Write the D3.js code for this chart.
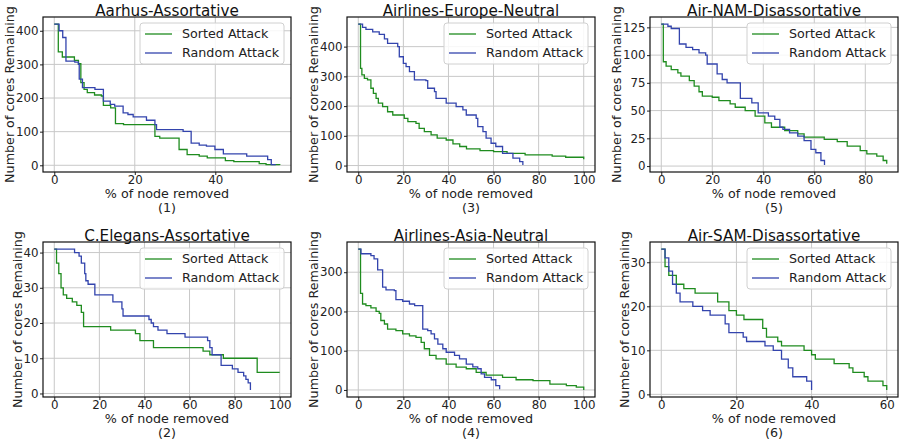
<!DOCTYPE html>
<html>
<head>
<meta charset="utf-8">
<script src="https://cdn.jsdelivr.net/npm/d3@7"></script>
<style>
  body { margin: 0; background: #fff; }
  svg { font-family: "DejaVu Sans", sans-serif; }
</style>
</head>
<body>
<svg id="chart"></svg>
<script>
// x = % of node removed, y = number of cores remaining (step series)
const titles = ["Aarhus-Assortative", "Airlines-Europe-Neutral", "Air-NAM-Disassortative",
  "C.Elegans-Assortative", "Airlines-Asia-Neutral", "Air-SAM-Disassortative"];
const captions = ["(1)", "(3)", "(5)", "(2)", "(4)", "(6)"];
const seriesNames = ["Sorted Attack", "Random Attack"];

const sorted1 = [[0,420],[1,337],[2,322],[5,312],[6,302],[6.6,246],[7.4,226],[8.2,216],[10,209],[11.7,206],[12.2,178],[14,171],[15.2,124],[17.2,121],[25,86],[26.2,81],[31,47],[33,32],[36,27],[38,22],[42.5,14],[44.6,11],[50.9,5],[52.6,2],[56,1]];
const random1 = [[0,420],[1.2,400],[2.1,380],[2.9,310],[5.1,307],[6,300],[6.2,256],[7,231],[10.1,226],[12.2,191],[13.9,181],[15,176],[17.1,156],[18.3,151],[19.6,144],[22.9,134],[25,121],[25.4,106],[32,101],[34,66],[36,60],[37.8,57],[39.9,47],[42,34],[47.8,27],[53,17],[53.9,2],[55,2]];

const sorted3 = [[0,476],[1,327],[1.6,305],[2.7,293],[4.1,288],[5.6,260],[6.7,243],[7.9,226],[8.9,210],[10.8,198],[13,181],[15.3,170],[20.4,159],[22,148],[25.6,142],[27,125],[29.3,114],[32.3,103],[35,92],[39,86],[42,73],[45,64],[48,56],[54,50],[60,47],[66,41],[74,36],[86,32],[92,28],[100,21]];
const random3 = [[0,476],[1.9,465],[3.4,458],[6.4,450],[9.3,441],[11.6,426],[13,411],[17.5,400],[18.2,366],[20,344],[21.2,333],[22.7,316],[24.9,288],[30,286],[30.8,260],[33.8,249],[34.5,226],[39,210],[43.4,198],[46.4,187],[47.9,170],[52.3,159],[53,131],[55.3,114],[56.7,92],[58.9,75],[61,64],[64,41],[68.6,25],[71.6,13],[73,2]];

const sorted5 = [[0,128],[0.8,94],[1.9,90],[3.9,87],[6.5,84],[7.7,81],[11,77],[12.9,72],[14.8,67],[16.1,63],[20,62],[22.6,59],[27,56],[29,53],[32.9,50],[36.8,45],[40.6,39],[43.2,35],[48.4,32],[53.5,29],[56,26],[63.9,24],[69,22],[72.9,18],[78,14],[80.6,11],[84.5,9],[87,5],[88.4,2]];
const random5 = [[0,128],[2.6,126],[3.9,124],[7.1,110],[9.7,107],[12.3,105],[14.8,102],[17.4,100],[18,92],[21.9,83],[23.9,78],[25.8,75],[31,61],[35.5,57],[38,48],[42,45],[44.5,42],[46.5,35],[47.7,33],[50.3,30],[53.5,27],[56,23],[58.7,15],[60.6,12],[62.6,5],[64,1]];

const sorted2 = [[0,41],[1,37],[2,34],[3,30],[4,28],[5.5,27],[8,26],[10,25],[12,23],[13,19],[25,18],[36,17],[38,15],[44,13],[66,12],[69,11],[75,10],[90,6],[100,6]];
const random2 = [[0,41],[9,40],[11,39],[12,37],[13.5,34],[14,32],[15,31],[18,28],[26,26],[30,24],[30.5,22],[42,21],[43,20],[44,19],[46,18],[50,17],[58,16],[68,15],[69,13],[70,11],[74,8],[79,7],[81.5,6],[84,5],[85,4],[86,3],[87,1]];

const sorted4 = [[0,359],[1,246],[1.9,219],[3.4,215],[5.6,209],[7.9,200],[9.3,195],[10,177],[11.6,168],[13,155],[16.7,151],[19.7,143],[22.7,138],[25.6,134],[27.9,121],[29.3,105],[31.6,88],[34.5,79],[39,66],[43.4,58],[47.9,54],[52.3,45],[56.7,38],[64,32],[70,26],[77.5,24],[85,15],[92.3,11],[96.7,7],[100,0]];
const random4 = [[0,359],[1.2,347],[5.6,342],[7,334],[8.6,306],[10.8,262],[12.3,255],[16,253],[16.7,230],[19.7,226],[22.7,219],[25,215],[28.6,155],[30.8,151],[32.3,143],[33.8,130],[35.3,117],[37.5,105],[39,96],[42.7,88],[44.9,79],[47.9,66],[50.8,59],[53,54],[54.5,41],[56,32],[59,26],[61,11],[62.7,2]];

const sorted6 = [[0,33],[1,29],[2,27],[4,25],[6,24],[9,23],[15,21],[18,19],[20,18],[22,17],[27,15],[28,13],[31,12],[32,11],[38,10],[40,9],[41,8],[46,7],[50,6],[51,5],[54,4],[55,3],[59,2],[60,1]];
const random6 = [[0,33],[1,31],[2,28],[3,25],[4,23],[5,21],[8.4,20],[11,19],[13,18],[17,16],[18,14],[21.8,13],[22.7,12],[27.6,11],[29.8,10],[32,8],[33.8,6],[35,4],[38.7,3],[40,1]];

const xTicks = [[0,20,40],[0,20,40,60,80,100],[0,20,40,60,80],[0,20,40,60,80,100],[0,20,40,60,80,100],[0,20,40,60]];
const yTicks = [[0,100,200,300,400],[0,100,200,300,400],[0,25,50,75,100,125],[0,10,20,30,40],[0,100,200,300],[0,10,20,30]];

const panelSeries = [[sorted1, random1], [sorted3, random3], [sorted5, random5],
  [sorted2, random2], [sorted4, random4], [sorted6, random6]];

const colors = ["#1f8c1f", "#3344ad"];
const width = 899, height = 443;
const colLeft = [43, 347, 650];
const rowTop = [17, 242];
const boxW = 248, boxH = 155;

const svg = d3.select("#chart").attr("width", width).attr("height", height);

// matplotlib-like 5% padding around the data
const padded = ext => {
  const m = (ext[1] - ext[0]) * 0.05;
  return [ext[0] - m, ext[1] + m];
};

panelSeries.forEach((series, i) => {
  const left = colLeft[i % 3], top = rowTop[Math.floor(i / 3)];
  const g = svg.append("g").attr("transform", `translate(${left},${top})`);
  const all = series.flat();

  const x = d3.scaleLinear().domain(padded(d3.extent(all, d => d[0]))).range([0, boxW]);
  const y = d3.scaleLinear().domain(padded(d3.extent(all, d => d[1]))).range([boxH, 0]);

  // grid
  g.append("g").selectAll("line").data(xTicks[i]).join("line")
    .attr("x1", d => x(d)).attr("x2", d => x(d)).attr("y1", 0).attr("y2", boxH)
    .attr("stroke", "#c8c8c8").attr("stroke-width", 1);
  g.append("g").selectAll("line").data(yTicks[i]).join("line")
    .attr("y1", d => y(d)).attr("y2", d => y(d)).attr("x1", 0).attr("x2", boxW)
    .attr("stroke", "#c8c8c8").attr("stroke-width", 1);

  // step lines
  const line = d3.line().x(d => x(d[0])).y(d => y(d[1])).curve(d3.curveStepAfter);
  series.forEach((s, k) => {
    g.append("path").datum(s).attr("d", line)
      .attr("fill", "none").attr("stroke", colors[k]).attr("stroke-width", 1.3);
  });

  // axes
  const xAxis = g.append("g").attr("transform", `translate(0,${boxH})`)
    .call(d3.axisBottom(x).tickValues(xTicks[i]).tickSizeInner(3).tickSizeOuter(0).tickPadding(0.5));
  const yAxis = g.append("g")
    .call(d3.axisLeft(y).tickValues(yTicks[i]).tickSizeInner(3).tickSizeOuter(0).tickPadding(1.5));
  [xAxis, yAxis].forEach(a => {
    a.select(".domain").remove();
    a.selectAll("text").attr("font-size", 11.8).attr("fill", "#222").attr("font-family", "DejaVu Sans");
    a.selectAll("line").attr("stroke", "#222");
  });

  // frame
  g.append("rect").attr("width", boxW).attr("height", boxH)
    .attr("fill", "none").attr("stroke", "#111").attr("stroke-width", 1.2);

  // title
  g.append("text").attr("x", boxW / 2).attr("y", -1.5).attr("text-anchor", "middle")
    .attr("font-size", 15.2).attr("fill", "#111").text(titles[i]);

  // axis labels
  const yw = yAxis.node().getBBox().width;
  g.append("text").attr("transform", `translate(${-yw - 1.5},${boxH / 2}) rotate(-90)`)
    .attr("text-anchor", "middle").attr("font-size", 12.7).attr("fill", "#222")
    .text("Number of cores Remaining");
  g.append("text").attr("x", boxW / 2).attr("y", boxH + 25.5).attr("text-anchor", "middle")
    .attr("font-size", 12.7).attr("fill", "#222").text("% of node removed");
  g.append("text").attr("x", boxW / 2).attr("y", boxH + 40).attr("text-anchor", "middle")
    .attr("font-size", 12.7).attr("fill", "#222").text(captions[i]);

  // legend
  const lg = g.append("g").attr("transform", `translate(${boxW - 151},6)`);
  lg.append("rect").attr("width", 144).attr("height", 41).attr("rx", 3)
    .attr("fill", "#fff").attr("fill-opacity", 0.85).attr("stroke", "#d0d0d0");
  seriesNames.forEach((name, k) => {
    const yy = 11 + k * 19;
    lg.append("line").attr("x1", 5).attr("x2", 32).attr("y1", yy).attr("y2", yy)
      .attr("stroke", colors[k]).attr("stroke-width", 1.3);
    lg.append("text").attr("x", 42).attr("y", yy).attr("dy", "0.35em")
      .attr("font-size", 12.7).attr("fill", "#222").text(name);
  });
});
</script>
</body>
</html>
